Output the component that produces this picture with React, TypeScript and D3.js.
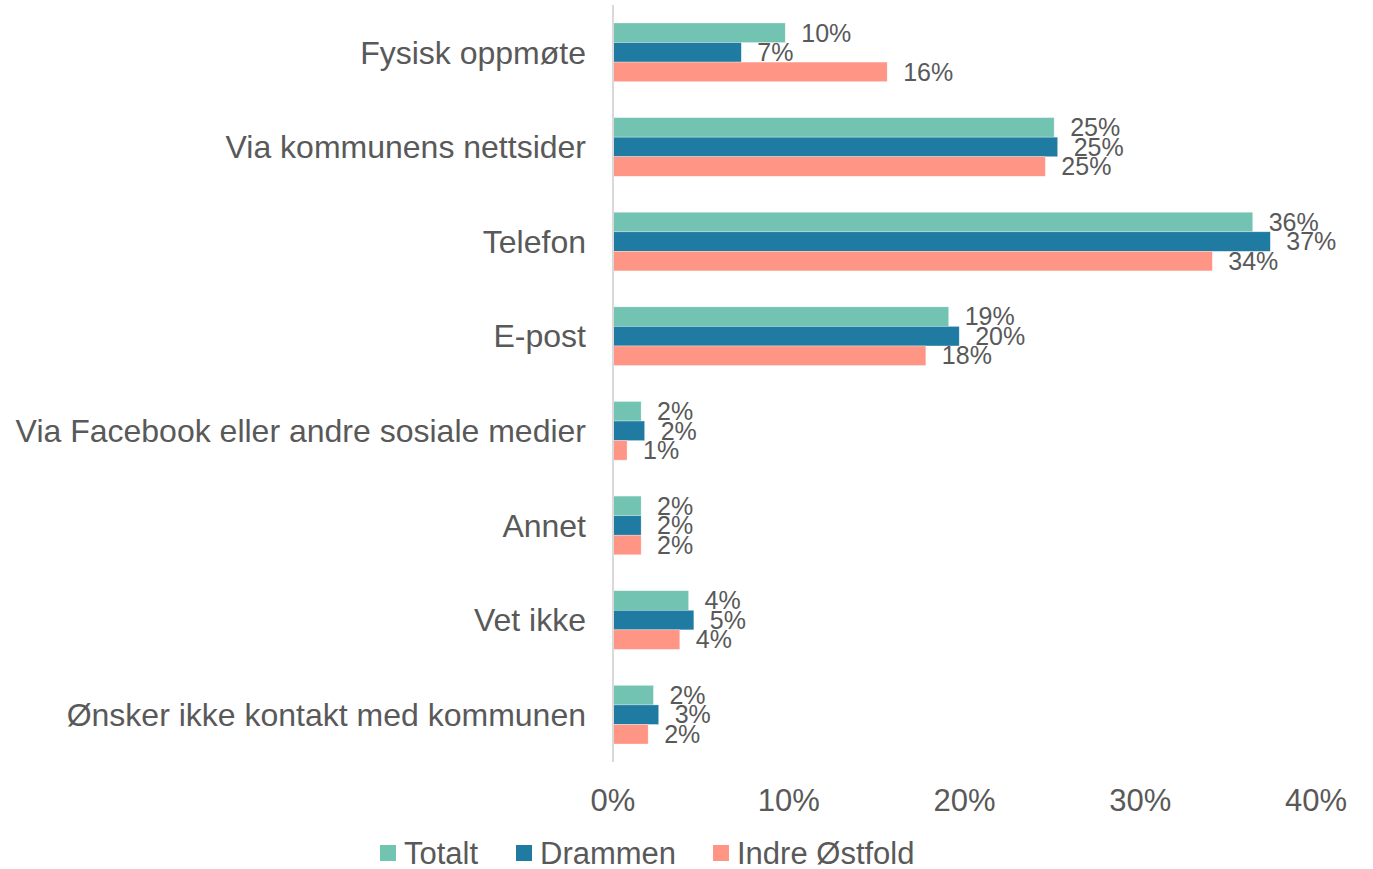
import React from 'react';
import * as d3 from 'd3';

// survey answers, share of respondents
const categories = [
  'Fysisk oppmøte',
  'Via kommunens nettsider',
  'Telefon',
  'E-post',
  'Via Facebook eller andre sosiale medier',
  'Annet',
  'Vet ikke',
  'Ønsker ikke kontakt med kommunen',
];
const totalt = [0.098, 0.251, 0.364, 0.191, 0.016, 0.016, 0.043, 0.023];
const drammen = [0.073, 0.253, 0.374, 0.197, 0.018, 0.016, 0.046, 0.026];
const indreOstfold = [0.156, 0.246, 0.341, 0.178, 0.008, 0.016, 0.038, 0.02];

const seriesNames = ['Totalt', 'Drammen', 'Indre Østfold'];
const xTicks = [0, 0.1, 0.2, 0.3, 0.4];

const colors = ['#72C3B2', '#1F7BA2', '#FF9585'];
const textColor = '#595959';
const font = '"Liberation Sans", Arial, sans-serif';

const width = 1373;
const height = 869;

const App = () => {
  const series = [totalt, drammen, indreOstfold];

  const x = d3.scaleLinear().domain([0, 0.4]).range([613, 1316]);
  const y = d3
    .scaleBand<string>()
    .domain(categories)
    .range([5, 762])
    .paddingInner(0.38)
    .paddingOuter(0.19);
  const inner = d3
    .scaleBand<number>()
    .domain([0, 1, 2])
    .range([0, y.bandwidth()]);

  const fmt = (v: number) => Math.round(v * 100) + '%';

  // legend layout
  const legendItems = [
    { x: 380, name: seriesNames[0] },
    { x: 516, name: seriesNames[1] },
    { x: 713, name: seriesNames[2] },
  ];

  return (
    <svg
      width={width}
      height={height}
      style={{ position: 'absolute', left: 0, top: 0, background: '#fff' }}
      fontFamily={font}
    >
      {/* bars */}
      {categories.map((c, ci) => (
        <g key={c} transform={`translate(0, ${y(c)})`}>
          {series.map((s, si) => (
            <rect
              key={si}
              x={x(0)}
              y={inner(si)}
              width={x(s[ci]) - x(0)}
              height={inner.bandwidth()}
              fill={colors[si]}
              stroke="#ffffff"
              strokeOpacity={0.5}
              strokeWidth={0.6}
            />
          ))}
          {series.map((s, si) => (
            <text
              key={'l' + si}
              x={x(s[ci]) + 16}
              y={(inner(si) ?? 0) + inner.bandwidth() / 2}
              dy="0.35em"
              fontSize={25}
              fill={textColor}
            >
              {fmt(s[ci])}
            </text>
          ))}
          <text
            x={586}
            y={y.bandwidth() / 2}
            dy="0.35em"
            textAnchor="end"
            fontSize={32}
            fill={textColor}
          >
            {c}
          </text>
        </g>
      ))}

      {/* category axis line */}
      <line x1={x(0)} x2={x(0)} y1={5} y2={762} stroke="#D9D9D9" strokeWidth={2} />

      {/* value axis ticks */}
      {xTicks.map((t) => (
        <text
          key={t}
          x={x(t)}
          y={800}
          dy="0.35em"
          textAnchor="middle"
          fontSize={31}
          fill={textColor}
        >
          {fmt(t)}
        </text>
      ))}

      {/* legend */}
      {legendItems.map((d, i) => (
        <g key={d.name}>
          <rect x={d.x} y={845} width={16} height={16} fill={colors[i]} />
          <text x={d.x + 24} y={853} dy="0.35em" fontSize={31} fill={textColor}>
            {d.name}
          </text>
        </g>
      ))}
    </svg>
  );
};

export default App;
